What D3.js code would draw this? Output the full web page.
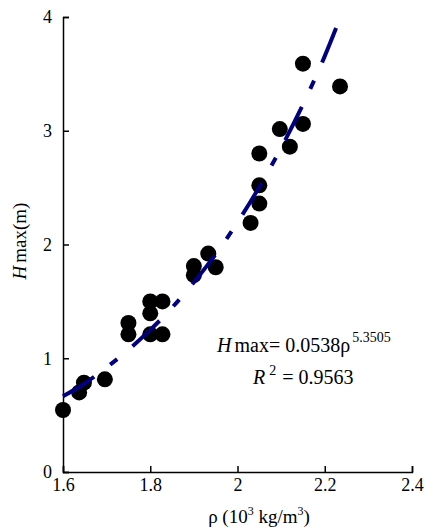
<!DOCTYPE html>
<html>
<head>
<meta charset="utf-8">
<script src="https://cdn.jsdelivr.net/npm/d3@7"></script>
</head>
<body style="margin:0">
<svg id="chart" width="425" height="531"></svg>
<script>
// measured points: density (10^3 kg/m^3) and Hmax (m)
var rho = [1.60, 1.637, 1.648, 1.696, 1.75, 1.75, 1.80, 1.80, 1.80, 1.828, 1.828,
           1.90, 1.90, 1.933, 1.95, 2.03, 2.05, 2.05, 2.05, 2.097, 2.12, 2.15, 2.15, 2.235];
var hmax = [0.545, 0.70, 0.785, 0.815, 1.31, 1.21, 1.50, 1.395, 1.21, 1.50, 1.21,
            1.81, 1.73, 1.92, 1.80, 2.19, 2.36, 2.52, 2.80, 3.015, 2.86, 3.06, 3.59, 3.39];

// power trend line
var trendRho = [1.6, 1.65, 1.7, 1.75, 1.8, 1.85, 1.9, 1.95, 2.0, 2.05, 2.1, 2.15, 2.2, 2.236];
var trendH = [0.665, 0.78, 0.92, 1.075, 1.249, 1.445, 1.668, 1.915, 2.195, 2.505, 2.85, 3.23, 3.656, 4.0];

var xTicks = [1.6, 1.8, 2.0, 2.2, 2.4];
var yTicks = [0, 1, 2, 3, 4];

var FONT = "'Liberation Serif'";

var svgWidth = 425, svgHeight = 531;
var margin = {top: 17, right: 13, bottom: 59, left: 63};
var width = svgWidth - margin.left - margin.right;
var height = svgHeight - margin.top - margin.bottom;

var svg = d3.select("#chart");

var chartGroup = svg.append("g")
    .attr("transform", `translate(${margin.left}, ${margin.top})`);

var xScale = d3.scaleLinear().domain([1.6, 2.4]).range([0, width]);
var yScale = d3.scaleLinear().domain([0, 4]).range([height, 0]);

var fmt = function(d) { return d === 2 ? "2" : d3.format(".1f")(d); };

// axes with ticks pointing inside
var xAxis = d3.axisBottom(xScale).tickValues(xTicks).tickSize(-6).tickPadding(10).tickFormat(fmt);
var yAxis = d3.axisLeft(yScale).tickValues(yTicks).tickSize(-6).tickPadding(10).tickFormat(d3.format("d"));

var gx = chartGroup.append("g")
    .attr("transform", `translate(0, ${height})`)
    .call(xAxis);
var gy = chartGroup.append("g").call(yAxis);

[gx, gy].forEach(function(g) {
    g.attr("font-family", null).attr("font-size", null);
    g.select(".domain").attr("stroke", "#000").attr("stroke-width", 1.5);
    g.selectAll(".tick line").attr("stroke", "#000").attr("stroke-width", 1.5);
    g.selectAll(".tick text")
        .style("font-family", FONT)
        .style("font-size", "18px")
        .attr("fill", "#000");
});
gx.selectAll(".tick text").attr("dy", "0.8em").attr("y", 5);
gy.selectAll(".tick text").attr("x", -11);

// points
chartGroup.selectAll("circle")
    .data(rho)
    .enter()
    .append("circle")
    .attr("cx", function(d) { return xScale(d); })
    .attr("cy", function(d, i) { return yScale(hmax[i]); })
    .attr("r", 8)
    .attr("fill", "#000");

// trend line on top
var line = d3.line()
    .x(function(d) { return xScale(d); })
    .y(function(d, i) { return yScale(trendH[i]); })
    .curve(d3.curveMonotoneX);

chartGroup.append("path")
    .datum(trendRho)
    .attr("d", line)
    .attr("fill", "none")
    .attr("stroke", "#000080")
    .attr("stroke-width", 4)
    .attr("stroke-dasharray", "37,20,9,20");

// equation
var eq = chartGroup.append("text")
    .attr("x", 154)
    .attr("y", 335)
    .style("font-family", FONT)
    .style("font-size", "20px");
eq.append("tspan").style("font-style", "italic").text("H");
eq.append("tspan").attr("dx", 3).text("max= 0.0538ρ");
eq.append("tspan").attr("dy", -10).attr("dx", 2).style("font-size", "14px").text("5.3505");

var r2 = chartGroup.append("text")
    .attr("x", 190)
    .attr("y", 367)
    .style("font-family", FONT)
    .style("font-size", "20px");
r2.append("tspan").style("font-style", "italic").text("R");
r2.append("tspan").attr("dy", -9).attr("dx", 4).style("font-size", "14px").text("2");
r2.append("tspan").attr("dy", 9).attr("dx", 1).text(" = 0.9563");

// axis titles
var xt = svg.append("text")
    .attr("x", 259)
    .attr("y", 523)
    .attr("text-anchor", "middle")
    .style("font-family", FONT)
    .style("font-size", "19px");
xt.append("tspan").text("ρ (10");
xt.append("tspan").attr("dy", -8).style("font-size", "12px").text("3");
xt.append("tspan").attr("dy", 8).text(" kg/m");
xt.append("tspan").attr("dy", -8).style("font-size", "12px").text("3");
xt.append("tspan").attr("dy", 8).text(")");

var yt = svg.append("text")
    .attr("transform", "translate(26, 241) rotate(-90)")
    .attr("text-anchor", "middle")
    .style("font-family", FONT)
    .style("font-size", "19px");
yt.append("tspan").style("font-style", "italic").text("H");
yt.append("tspan").attr("dx", 3).text("max(m)");
</script>
</body>
</html>
